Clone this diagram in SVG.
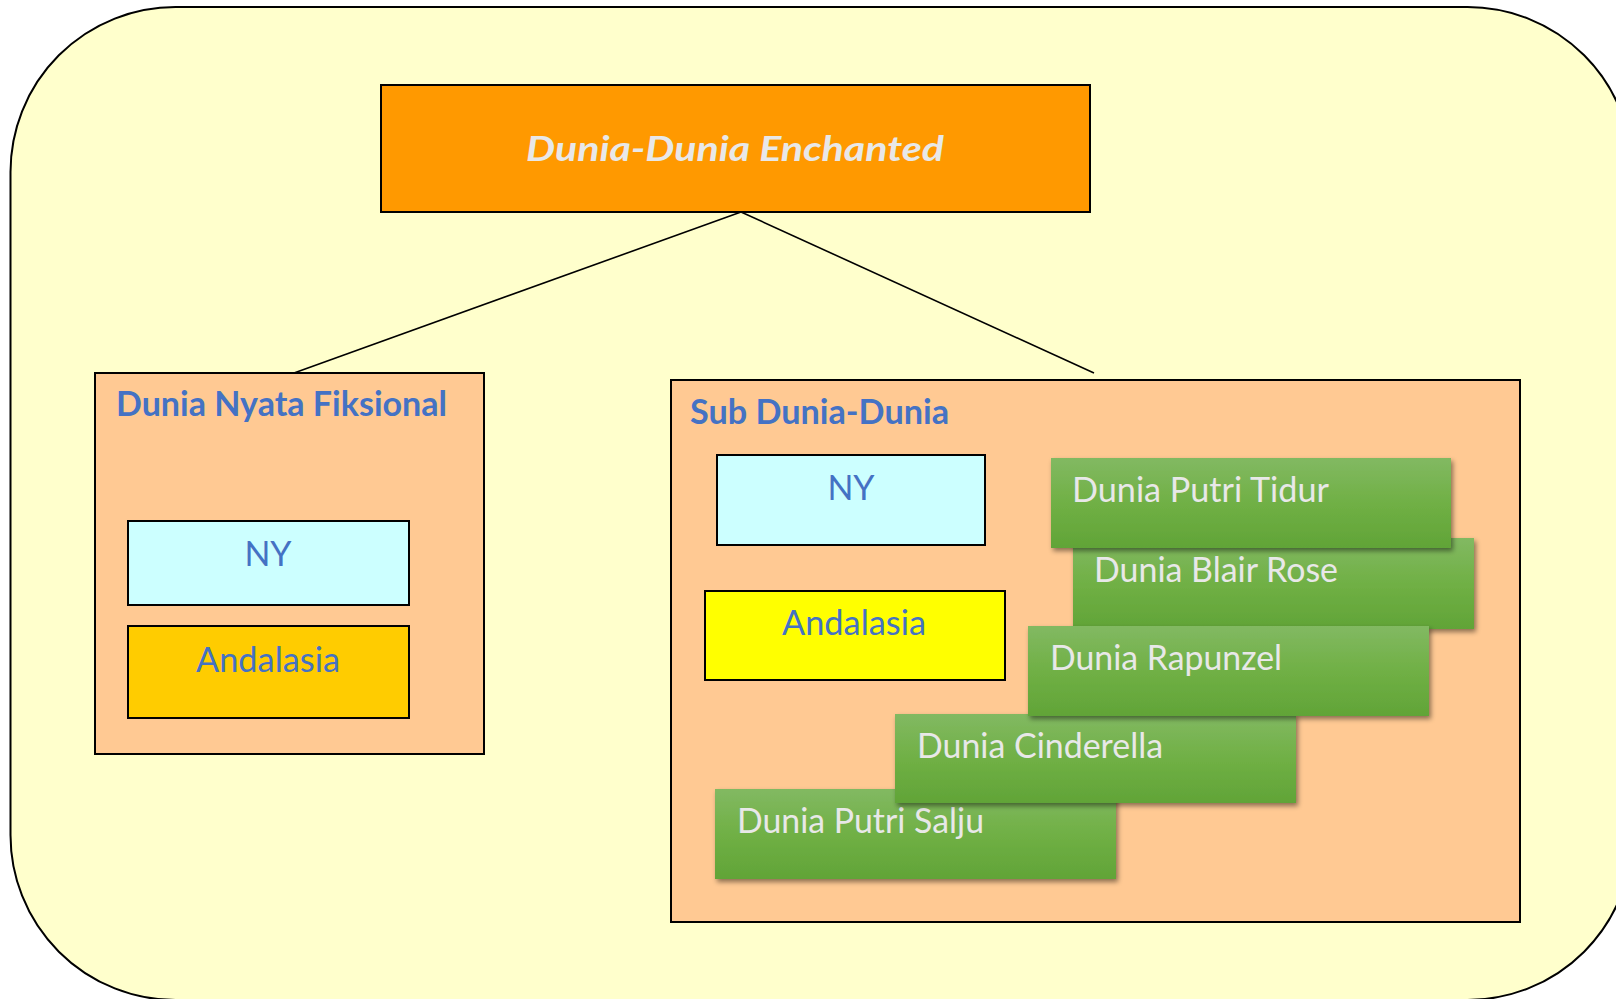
<svg xmlns="http://www.w3.org/2000/svg" width="1616" height="999" viewBox="0 0 1616 999">
<style>
.box{stroke:#000;stroke-width:2}
.t{font-family:Lato,"Open Sans","Liberation Sans",sans-serif;font-size:34px}
.blue{fill:#4472C4}
.head{font-weight:bold}
.gt{fill:#E8E8E8}
.g{fill:url(#gg);filter:url(#sh)}
</style>
<defs>
<linearGradient id="gg" x1="0" y1="0" x2="0" y2="1">
<stop offset="0" stop-color="#82B962"/>
<stop offset="0.5" stop-color="#70B045"/>
<stop offset="1" stop-color="#61A437"/>
</linearGradient>
<filter id="sh" x="-5%" y="-10%" width="115%" height="130%">
<feDropShadow dx="2" dy="3" stdDeviation="2.5" flood-color="#000" flood-opacity="0.45"/>
</filter>
</defs>
<rect id="background" x="10.5" y="7" width="1622" height="993" rx="165" ry="165" fill="#FFFFCC" stroke="#000" stroke-width="2"/>
<g id="connectors" stroke="#000" stroke-width="1.6" fill="none">
<line x1="741" y1="212" x2="294" y2="373"/>
<line x1="741" y1="212" x2="1094" y2="373"/>
</g>
<g id="title">
<rect class="box" x="381" y="85" width="709" height="127" fill="#FF9900"/>
<text class="t gt" x="735" y="161" text-anchor="middle" font-weight="bold" font-style="italic" textLength="418" lengthAdjust="spacingAndGlyphs">Dunia-Dunia Enchanted</text>
</g>
<g id="nyata">
<rect class="box" x="95" y="373" width="389" height="381" fill="#FFC993"/>
<text class="t blue head" x="116" y="416" textLength="331" lengthAdjust="spacingAndGlyphs">Dunia Nyata Fiksional</text>
</g>
<g id="ny-left">
<rect class="box" x="128" y="521" width="281" height="84" fill="#CCFFFF"/>
<text class="t blue" x="268" y="566" text-anchor="middle">NY</text>
</g>
<g id="andalasia-left">
<rect class="box" x="128" y="626" width="281" height="92" fill="#FFCC00"/>
<text class="t blue" x="268" y="672" text-anchor="middle" textLength="144" lengthAdjust="spacingAndGlyphs">Andalasia</text>
</g>
<g id="sub">
<rect class="box" x="671" y="380" width="849" height="542" fill="#FFC993"/>
<text class="t blue head" x="690" y="424" textLength="259" lengthAdjust="spacingAndGlyphs">Sub Dunia-Dunia</text>
</g>
<g id="ny-right">
<rect class="box" x="717" y="455" width="268" height="90" fill="#CCFFFF"/>
<text class="t blue" x="851" y="500" text-anchor="middle">NY</text>
</g>
<g id="andalasia-right">
<rect class="box" x="705" y="591" width="300" height="89" fill="#FFFF00"/>
<text class="t blue" x="854" y="635" text-anchor="middle" textLength="144" lengthAdjust="spacingAndGlyphs">Andalasia</text>
</g>
<g id="putri-salju">
<rect class="g" x="715" y="789" width="401" height="90"/>
<text class="t gt" x="737" y="833" textLength="247" lengthAdjust="spacingAndGlyphs">Dunia Putri Salju</text>
</g>
<g id="cinderella">
<rect class="g" x="895" y="714" width="401" height="89"/>
<text class="t gt" x="917" y="758" textLength="246" lengthAdjust="spacingAndGlyphs">Dunia Cinderella</text>
</g>
<g id="blair-rose">
<rect class="g" x="1073" y="538" width="401" height="91"/>
<text class="t gt" x="1094" y="582" textLength="244" lengthAdjust="spacingAndGlyphs">Dunia Blair Rose</text>
</g>
<g id="rapunzel">
<rect class="g" x="1028" y="626" width="401" height="90"/>
<text class="t gt" x="1050" y="670" textLength="232" lengthAdjust="spacingAndGlyphs">Dunia Rapunzel</text>
</g>
<g id="putri-tidur">
<rect class="g" x="1051" y="458" width="400" height="90"/>
<text class="t gt" x="1072" y="502" textLength="257" lengthAdjust="spacingAndGlyphs">Dunia Putri Tidur</text>
</g>
</svg>
